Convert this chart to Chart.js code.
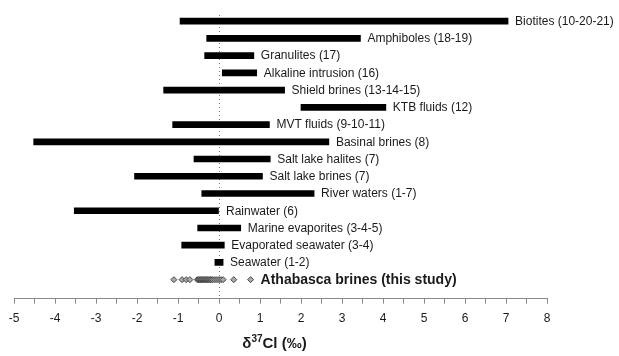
<!DOCTYPE html>
<html>
<head>
<meta charset="utf-8">
<script src="https://cdn.jsdelivr.net/npm/chart.js@4"></script>
<style>
  html, body { margin: 0; padding: 0; background: #fff; }
  #wrap { width: 619px; height: 356px; }
</style>
</head>
<body>
<div id="wrap"><canvas id="chart" width="619" height="356"></canvas></div>
<script>
// Cl isotope ranges of the reference reservoirs (‰), top to bottom
const sources = [
  "Biotites (10-20-21)",
  "Amphiboles (18-19)",
  "Granulites (17)",
  "Alkaline intrusion (16)",
  "Shield brines (13-14-15)",
  "KTB fluids (12)",
  "MVT fluids (9-10-11)",
  "Basinal brines (8)",
  "Salt lake halites (7)",
  "Salt lake brines (7)",
  "River waters (1-7)",
  "Rainwater (6)",
  "Marine evaporites (3-4-5)",
  "Evaporated seawater (3-4)",
  "Seawater (1-2)"
]
const lows  = [-0.95, -0.3, -0.35, 0.08, -1.35, 2.0, -1.13, -4.52, -0.61, -2.06, -0.42, -3.53, -0.52, -0.91, -0.1]
const highs = [7.05, 3.45, 0.85, 0.92, 1.6, 4.07, 1.23, 2.68, 1.25, 1.06, 2.32, 0, 0.53, 0.13, 0.1]

// this study
const athabascaLabel = "Athabasca brines (this study)"
const athabasca = [-1.1, -0.9, -0.8, -0.71, -0.53, -0.5, -0.47, -0.45, -0.42, -0.4, -0.37,
  -0.35, -0.32, -0.3, -0.28, -0.25, -0.22, -0.2, -0.17, -0.15, -0.1, -0.05, 0, 0.05, 0.1, 0.36, 0.77]

const xMin = -5
const xMax = 8
const axisTitle = { main: "δ", sup: "37", rest: "Cl (‰)" }

const FONT = '"Liberation Sans", Arial, sans-serif'

const barData = sources.map((s, i) => ({ x: [lows[i], highs[i]], y: i }))
const pointData = athabasca.map(v => ({ x: v, y: sources.length }))

// dotted zero line, bar labels and axis title
const annotate = {
  id: "annotate",
  beforeDatasetsDraw(chart) {
    const { ctx, chartArea, scales } = chart
    const x0 = scales.x.getPixelForValue(0)
    ctx.save()
    ctx.strokeStyle = "#777"
    ctx.lineWidth = 1
    ctx.setLineDash([1, 3])
    ctx.beginPath()
    ctx.moveTo(Math.round(x0) + 0.5, chartArea.top)
    ctx.lineTo(Math.round(x0) + 0.5, chartArea.bottom)
    ctx.stroke()
    ctx.restore()
  },
  afterDatasetsDraw(chart) {
    const { ctx, scales, chartArea } = chart
    ctx.save()
    ctx.fillStyle = "#1a1a1a"
    ctx.textBaseline = "middle"
    ctx.font = "12px " + FONT
    sources.forEach((s, i) => {
      ctx.fillText(s, scales.x.getPixelForValue(highs[i]) + 7, scales.y.getPixelForValue(i) + 0.5)
    })
    ctx.font = "bold 14px " + FONT
    ctx.fillText(athabascaLabel, scales.x.getPixelForValue(Math.max(...athabasca)) + 10,
      scales.y.getPixelForValue(sources.length) + 0.5)

    // x axis title with superscript
    ctx.font = "bold 15px " + FONT
    const w1 = ctx.measureText(axisTitle.main).width
    const w3 = ctx.measureText(axisTitle.rest).width
    ctx.font = "bold 10px " + FONT
    const w2 = ctx.measureText(axisTitle.sup).width
    const cx = (chartArea.left + chartArea.right) / 2 - 6
    let x = cx - (w1 + w2 + w3) / 2
    const y = 343
    ctx.textBaseline = "alphabetic"
    ctx.font = "bold 15px " + FONT
    ctx.fillText(axisTitle.main, x, y + 5)
    x += w1
    ctx.font = "bold 10px " + FONT
    ctx.fillText(axisTitle.sup, x, y - 1)
    x += w2
    ctx.font = "bold 15px " + FONT
    ctx.fillText(axisTitle.rest, x, y + 5)
    ctx.restore()
  }
}

new Chart(document.getElementById("chart"), {
  type: "bar",
  data: {
    datasets: [{
      type: "bar",
      indexAxis: "y",
      data: barData,
      backgroundColor: "#000",
      borderWidth: 0,
      barThickness: 6
    }, {
      type: "scatter",
      data: pointData,
      pointStyle: "rectRot",
      radius: 3,
      backgroundColor: "#aaa",
      borderColor: "#444",
      borderWidth: 1
    }]
  },
  options: {
    responsive: false,
    animation: false,
    layout: { padding: { left: 14, right: 72, top: 15, bottom: 22 } },
    plugins: { legend: { display: false }, tooltip: { enabled: false } },
    scales: {
      x: {
        type: "linear",
        offset: false,
        min: xMin,
        max: xMax,
        grid: { offset: false, drawOnChartArea: false, drawTicks: true, tickLength: 5, tickColor: "#888", tickWidth: 1 },
        border: { display: true, color: "#888", width: 1 },
        ticks: {
          stepSize: 0.5,
          autoSkip: false,
          maxRotation: 0,
          padding: 8,
          color: "#1a1a1a",
          font: { family: FONT, size: 12 },
          callback: v => Number.isInteger(v) ? String(v) : ""
        }
      },
      y: {
        type: "linear",
        offset: false,
        reverse: true,
        min: -0.36,
        max: 16.1,
        display: false
      }
    }
  },
  plugins: [annotate]
})
</script>
</body>
</html>
